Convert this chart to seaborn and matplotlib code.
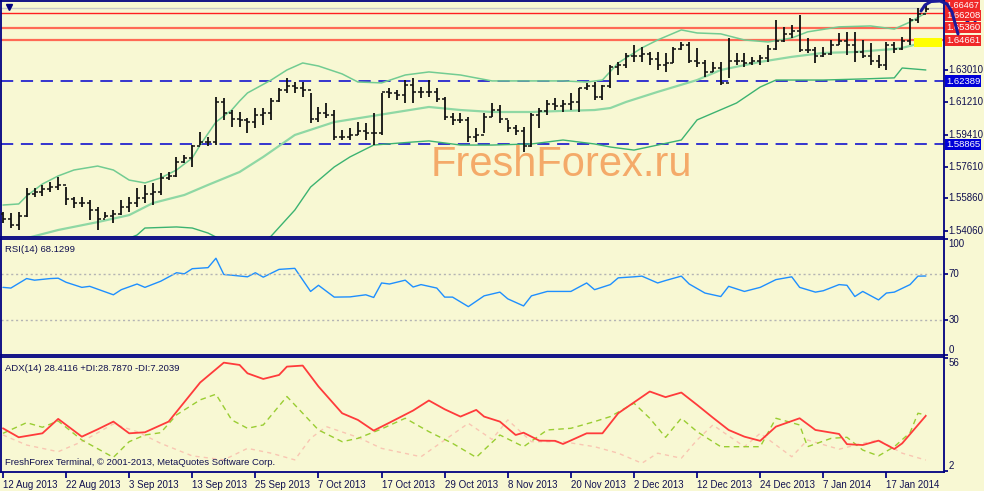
import numpy as np
import pandas as pd
import matplotlib
matplotlib.use("Agg")
import matplotlib.pyplot as plt
import matplotlib.transforms as mtransforms
from matplotlib.lines import Line2D
from matplotlib.patches import Rectangle
import seaborn as sns

BG = "#F8F8D3"
NAVY = "#000080"
TXT = "#101050"

# daily GBP/USD bars, 12 Aug 2013 .. 22 Jan 2014
bar_high = [1.5510, 1.5505, 1.5510, 1.5644, 1.5644, 1.5661, 1.5677, 1.5705, 1.5649, 1.5594,
            1.5594, 1.5577, 1.5538, 1.5510, 1.5521, 1.5577, 1.5594, 1.5644, 1.5661, 1.5672,
            1.5727, 1.5733, 1.5817, 1.5828, 1.5883, 1.5956, 1.5928, 1.6151, 1.6145, 1.6078,
            1.6067, 1.6034, 1.6089, 1.6089, 1.6145, 1.6201, 1.6257, 1.6234, 1.6234, 1.6173,
            1.6095, 1.6117, 1.6078, 1.5967, 1.5978, 1.6011, 1.6006, 1.6062, 1.6173, 1.6201,
            1.6190, 1.6245, 1.6257, 1.6206, 1.6245, 1.6201, 1.6151, 1.6062, 1.6062, 1.6039,
            1.5978, 1.6062, 1.6117, 1.6106, 1.6023, 1.5995, 1.5984, 1.6062, 1.6089, 1.6134,
            1.6145, 1.6134, 1.6173, 1.6201, 1.6229, 1.6234, 1.6218, 1.6329, 1.6346, 1.6396,
            1.6440, 1.6429, 1.6401, 1.6401, 1.6396, 1.6429, 1.6457, 1.6457, 1.6424, 1.6357,
            1.6346, 1.6346, 1.6479, 1.6396, 1.6396, 1.6374, 1.6385, 1.6440, 1.6580, 1.6541,
            1.6552, 1.6607, 1.6479, 1.6429, 1.6429, 1.6468, 1.6507, 1.6513, 1.6513, 1.6468,
            1.6451, 1.6385, 1.6457, 1.6457, 1.6485, 1.6591, 1.6646, 1.6663]
bar_low = [1.5449, 1.5421, 1.5410, 1.5482, 1.5594, 1.5599, 1.5622, 1.5633, 1.5549, 1.5532,
           1.5538, 1.5466, 1.5410, 1.5477, 1.5449, 1.5493, 1.5510, 1.5538, 1.5560, 1.5549,
           1.5605, 1.5688, 1.5705, 1.5783, 1.5761, 1.5883, 1.5878, 1.5883, 1.6023, 1.5984,
           1.5984, 1.5950, 1.5978, 1.5995, 1.6023, 1.6123, 1.6173, 1.6173, 1.6151, 1.6006,
           1.6011, 1.6034, 1.5911, 1.5911, 1.5911, 1.5939, 1.5911, 1.5883, 1.5939, 1.6145,
           1.6134, 1.6117, 1.6117, 1.6145, 1.6151, 1.6123, 1.6023, 1.5995, 1.6006, 1.5900,
           1.5900, 1.5950, 1.6039, 1.6006, 1.5956, 1.5939, 1.5844, 1.5872, 1.5978, 1.6050,
           1.6078, 1.6067, 1.6078, 1.6067, 1.6190, 1.6134, 1.6134, 1.6201, 1.6273, 1.6312,
           1.6346, 1.6346, 1.6329, 1.6301, 1.6290, 1.6340, 1.6412, 1.6340, 1.6318, 1.6262,
           1.6290, 1.6218, 1.6257, 1.6329, 1.6318, 1.6329, 1.6329, 1.6346, 1.6412, 1.6457,
           1.6479, 1.6401, 1.6396, 1.6340, 1.6374, 1.6385, 1.6440, 1.6385, 1.6346, 1.6368,
           1.6329, 1.6312, 1.6301, 1.6396, 1.6412, 1.6440, 1.6563, 1.6624]
bar_close = [1.5470, 1.5440, 1.5490, 1.5610, 1.5620, 1.5640, 1.5650, 1.5660, 1.5580, 1.5560,
             1.5560, 1.5520, 1.5470, 1.5490, 1.5500, 1.5540, 1.5560, 1.5590, 1.5610, 1.5620,
             1.5700, 1.5710, 1.5790, 1.5810, 1.5880, 1.5900, 1.5900, 1.6120, 1.6060, 1.6030,
             1.6020, 1.6010, 1.6050, 1.6060, 1.6130, 1.6190, 1.6210, 1.6200, 1.6190, 1.6030,
             1.6060, 1.6050, 1.5930, 1.5930, 1.5940, 1.5960, 1.5950, 1.5950, 1.6180, 1.6170,
             1.6160, 1.6220, 1.6180, 1.6180, 1.6180, 1.6140, 1.6040, 1.6020, 1.6020, 1.5930,
             1.5940, 1.6040, 1.6080, 1.6030, 1.5980, 1.5960, 1.5880, 1.6050, 1.6070, 1.6110,
             1.6100, 1.6110, 1.6120, 1.6200, 1.6210, 1.6150, 1.6210, 1.6320, 1.6330, 1.6380,
             1.6380, 1.6390, 1.6360, 1.6330, 1.6340, 1.6420, 1.6440, 1.6350, 1.6340, 1.6290,
             1.6310, 1.6230, 1.6350, 1.6350, 1.6340, 1.6350, 1.6370, 1.6420, 1.6460, 1.6500,
             1.6520, 1.6410, 1.6410, 1.6380, 1.6390, 1.6440, 1.6460, 1.6440, 1.6400, 1.6380,
             1.6350, 1.6330, 1.6440, 1.6420, 1.6460, 1.6580, 1.6610, 1.6640]
first_open = 1.5500

# Bollinger bands (20)
bb_upper_idx = [0, 2, 3, 5, 7, 9, 12, 14, 16, 18, 20, 22, 24, 25, 27, 29, 30, 31, 34, 36,
                38, 40, 43, 45, 48, 51, 54, 58, 62, 67, 71, 74, 76, 78, 81, 83, 86, 88, 91, 94,
                97, 100, 102, 106, 110, 113, 115, 117]
bb_upper = [1.5549, 1.5555, 1.5599, 1.5666, 1.5711, 1.5744, 1.5766, 1.5744, 1.5688, 1.5672,
            1.5700, 1.5744, 1.5811, 1.5883, 1.6011, 1.6078, 1.6128, 1.6173, 1.6245, 1.6301,
            1.6340, 1.6323, 1.6279, 1.6234, 1.6229, 1.6273, 1.6290, 1.6273, 1.6240, 1.6240,
            1.6240, 1.6234, 1.6245, 1.6340, 1.6424, 1.6468, 1.6524, 1.6507, 1.6502, 1.6468,
            1.6457, 1.6479, 1.6513, 1.6541, 1.6546, 1.6529, 1.6568, 1.6619]
bb_mid_idx = [0, 4, 7, 12, 16, 19, 23, 26, 30, 33, 37, 42, 46, 50, 54, 58, 62, 67, 71, 75,
              77, 79, 83, 88, 91, 96, 100, 104, 108, 113, 114, 117]
bb_mid = [1.5330, 1.5376, 1.5410, 1.5454, 1.5493, 1.5560, 1.5605, 1.5661, 1.5733, 1.5817,
          1.5939, 1.6011, 1.6039, 1.6067, 1.6095, 1.6078, 1.6067, 1.6067, 1.6073, 1.6078,
          1.6089, 1.6123, 1.6179, 1.6245, 1.6301, 1.6346, 1.6374, 1.6396, 1.6401, 1.6418,
          1.6424, 1.6457]
bb_lower_idx = [0, 8, 14, 17, 18, 22, 24, 26, 27, 30, 34, 37, 39, 42, 44, 47, 52, 54, 58, 62,
                67, 71, 75, 77, 80, 83, 86, 88, 93, 96, 98, 104, 109, 113, 114, 117]
bb_lower = [1.5120, 1.5230, 1.5330, 1.5382, 1.5421, 1.5427, 1.5421, 1.5393, 1.5371, 1.5250,
            1.5376, 1.5521, 1.5649, 1.5761, 1.5817, 1.5883, 1.5900, 1.5906, 1.5883, 1.5883,
            1.5889, 1.5911, 1.5889, 1.5872, 1.5855, 1.5883, 1.5911, 1.6023, 1.6117, 1.6206,
            1.6245, 1.6245, 1.6251, 1.6257, 1.6312, 1.6301]

resist_levels = [1.66208, 1.65360, 1.64661]
support_levels = [1.62389, 1.58865]
bid_price = 1.66467
price_ticks = [1.63010, 1.61210, 1.59410, 1.57610, 1.55860, 1.54060]

rsi_idx = [0, 1, 3, 4, 6, 7, 8, 10, 11, 14, 15, 17, 18, 20, 22, 23, 24, 26, 27, 28,
           29, 31, 32, 33, 35, 37, 39, 40, 42, 44, 46, 47, 48, 49, 51, 52, 53, 55, 56, 57,
           59, 61, 63, 64, 66, 67, 69, 72, 74, 75, 77, 78, 80, 81, 83, 84, 86, 87, 89, 91,
           92, 94, 96, 98, 100, 101, 103, 104, 106, 107, 108, 109, 111, 112, 113, 115, 116, 117]
rsi_val = [58.3, 57.7, 65.9, 64.5, 65.9, 66.2, 62.7, 58.3, 59.2, 51.9, 56.3, 61.2, 58.3, 63.6,
           70.9, 70.0, 74.4, 75.3, 83.4, 69.4, 68.8, 67.4, 70.9, 67.1, 73.8, 74.7, 54.8, 60.1,
           49.9, 50.1, 51.9, 49.6, 62.1, 61.2, 64.5, 58.6, 60.7, 57.7, 49.9, 49.9, 41.7, 51.0,
           54.2, 48.4, 42.3, 51.0, 54.8, 54.8, 62.1, 56.3, 60.7, 66.5, 67.4, 68.0, 62.1, 64.2,
           68.0, 61.2, 53.4, 50.4, 59.2, 54.8, 58.3, 65.0, 67.4, 58.3, 54.2, 55.4, 60.7, 60.1,
           50.4, 54.8, 47.5, 53.4, 54.2, 60.7, 68.0, 68.1]

adx_idx = [0, 2, 5, 7, 10, 12, 14, 16, 18, 21, 25, 28, 30, 31, 33, 35, 36, 38, 40, 43,
           45, 47, 49, 52, 54, 56, 58, 60, 61, 63, 65, 66, 68, 70, 71, 74, 76, 78, 82, 84,
           86, 88, 90, 92, 94, 96, 98, 101, 103, 106, 107, 109, 111, 113, 114, 117]
adx_val = [22.4, 18.1, 20.0, 26.9, 18.4, 21.9, 25.6, 20.0, 20.5, 25.6, 44.3, 53.8, 52.7, 48.7,
           46.0, 47.9, 51.9, 52.4, 42.4, 29.6, 26.4, 21.3, 25.1, 30.9, 35.7, 31.5, 28.0, 31.2,
           28.0, 25.6, 19.2, 20.3, 16.5, 16.4, 14.9, 20.0, 20.0, 29.6, 40.0, 37.3, 39.5, 33.6,
           27.5, 21.6, 18.4, 16.4, 23.2, 27.2, 21.6, 19.7, 14.8, 14.4, 16.5, 12.5, 15.2, 28.4]
pdi_idx = [0, 3, 5, 7, 10, 14, 16, 18, 20, 22, 25, 27, 29, 31, 33, 36, 40, 43, 45, 48,
           51, 54, 57, 60, 63, 66, 69, 72, 75, 77, 80, 82, 84, 86, 88, 91, 93, 96, 98, 101,
           102, 105, 107, 109, 111, 113, 115, 116, 117]
pdi_val = [20.0, 25.1, 22.9, 25.9, 16.8, 8.5, 16.0, 19.2, 20.3, 28.8, 36.0, 38.7, 26.4, 22.4,
           24.0, 37.6, 21.6, 16.0, 17.6, 22.1, 27.2, 20.8, 15.2, 8.5, 19.2, 13.6, 21.6, 22.4,
           25.6, 28.0, 34.4, 27.2, 18.1, 27.2, 20.8, 13.6, 13.6, 13.6, 27.2, 24.0, 13.6, 17.6,
           18.1, 12.0, 9.2, 13.6, 20.3, 29.6, 28.8]
mdi_idx = [0, 3, 7, 10, 14, 17, 20, 24, 28, 31, 34, 37, 39, 41, 45, 48, 53, 56, 59, 62,
           64, 67, 71, 75, 78, 81, 83, 86, 88, 90, 94, 96, 100, 102, 106, 109, 111, 114, 117]
mdi_val = [19.2, 14.4, 11.2, 16.0, 24.5, 20.8, 15.2, 9.2, 7.3, 12.8, 10.5, 7.3, 17.6, 23.2,
           18.1, 12.8, 8.8, 16.8, 24.8, 17.1, 26.4, 16.0, 16.0, 13.6, 10.5, 5.7, 10.5, 8.1,
           16.8, 24.0, 13.6, 20.0, 8.8, 16.8, 12.4, 15.2, 16.8, 10.5, 7.2]

date_idx = [0, 8, 16, 24, 32, 40, 48, 56, 64, 72, 80, 88, 96, 104, 112]
date_labels = ["12 Aug 2013", "22 Aug 2013", "3 Sep 2013", "13 Sep 2013", "25 Sep 2013",
               "7 Oct 2013", "17 Oct 2013", "29 Oct 2013", "8 Nov 2013", "20 Nov 2013",
               "2 Dec 2013", "12 Dec 2013", "24 Dec 2013", "7 Jan 2014", "17 Jan 2014"]

sns.set_theme(style="white")
plt.rcParams["font.family"] = ["Liberation Sans", "DejaVu Sans"]

W, H = 984, 491
fig = plt.figure(figsize=(W / 100, H / 100), dpi=100, facecolor=BG)
pw = 943 / W
ax = fig.add_axes([0.001, 1 - 237 / H, pw, 236 / H])
ax_rsi = fig.add_axes([0.001, 1 - 355 / H, pw, 116 / H])
ax_adx = fig.add_axes([0.001, 1 - 472 / H, pw, 115 / H])

XL = (-0.25, 119.3)
for a in (ax, ax_rsi, ax_adx):
    a.set_facecolor(BG)
    a.set_xlim(*XL)
    for s in a.spines.values():
        s.set_color(NAVY)
        s.set_linewidth(1.3)
    a.tick_params(axis="y", which="both", left=False, right=True, length=3,
                  color=NAVY, labelleft=False, labelright=False)
    a.tick_params(axis="x", bottom=False, labelbottom=False)

# ---- price panel
ax.set_ylim(1.5371, 1.6685)
band_style = dict(estimator=None, sort=False, legend=False, ax=ax)
sns.lineplot(x=bb_upper_idx, y=bb_upper, color="#72CC92", lw=1.1, **band_style)
sns.lineplot(x=bb_mid_idx, y=bb_mid, color="#8FD8A4", lw=1.6, **band_style)
sns.lineplot(x=bb_lower_idx, y=bb_lower, color="#3CB371", lw=1.0, **band_style)

ax.axhline(bid_price, color="#C8C8C8", lw=1, zorder=1)
ax.axhline(resist_levels[0], color="#FF2020", lw=1, zorder=1)
for lv in resist_levels[1:]:
    ax.axhline(lv, color="#FF6A55", lw=1.6, zorder=1)
for lv in support_levels:
    ax.axhline(lv, color="#0000CD", lw=1.1, dashes=(8, 5), zorder=1)

ax.add_patch(Rectangle((115.5, 1.6429), 3.6, 0.0050, facecolor="#FFFF00",
                       edgecolor="none", zorder=2))

idx = np.arange(len(bar_close))
bar_open = [first_open] + bar_close[:-1]
ax.vlines(idx, bar_low, bar_high, color="#111111", lw=1.3, zorder=4)
ax.hlines(bar_open, idx - 0.38, idx, color="#111111", lw=1.1, zorder=4)
ax.hlines(bar_close, idx, idx + 0.38, color="#111111", lw=1.1, zorder=4)

ax.text(0.594, 0.305, "FreshForex.ru", transform=ax.transAxes, ha="center", va="center",
        fontsize=30, color="#F4A25E", alpha=0.9, zorder=3)
ax.plot([0.008], [0.975], marker="v", ms=4, color=NAVY, transform=ax.transAxes)

ax.set_yticks(price_ticks)
ytr = ax.get_yaxis_transform()
for p in price_ticks:
    ax.text(1.005, p, f"{p:.5f}", transform=ytr, va="center", ha="left",
            fontsize=7, color=TXT, clip_on=False)
box = dict(boxstyle="square,pad=0.12", edgecolor="none")
# current bid label pinned to the top edge; the nearest level label is nudged below it
ax.text(1.002, 0.998, f"{bid_price:.5f}", transform=ax.transAxes, va="top", ha="left",
        fontsize=6.5, color="white", bbox=dict(box, facecolor="#F02828"), clip_on=False,
        zorder=5)
label_tr = [mtransforms.offset_copy(ytr, fig=fig, y=-3, units="dots"), ytr, ytr]
for lv, tr in zip(resist_levels, label_tr):
    ax.text(1.002, lv, f"{lv:.5f}", transform=tr, va="center", ha="left", fontsize=6.8,
            color="white", bbox=dict(box, facecolor="#F02828"), clip_on=False, zorder=6)
for lv in support_levels:
    ax.text(1.002, lv, f"{lv:.5f}", transform=ytr, va="center", ha="left", fontsize=6.8,
            color="white", bbox=dict(box, facecolor="#0000D8"), clip_on=False, zorder=6)

# hand-drawn arrow in the corner
px = lambda x, y: (x / W, 1 - y / H)
curve = [px(921, 11), px(925, 5), px(931, 1.5), px(940, 1), px(947, 4), px(952, 12), px(958, 34)]
fig.add_artist(Line2D([c[0] for c in curve], [c[1] for c in curve], color="#1A1A9A", lw=2.2))
ax.annotate("", xy=px(980, 5), xycoords="figure fraction", xytext=px(958, 34),
            textcoords="figure fraction",
            arrowprops=dict(arrowstyle="->,head_length=0.6,head_width=0.35",
                            color="#1A1A9A", lw=2.2))

# ---- RSI panel
ax_rsi.set_ylim(0, 100)
sns.lineplot(x=rsi_idx, y=rsi_val, color="#1E8FFF", lw=1.0, estimator=None, sort=False,
             legend=False, ax=ax_rsi)
for lv in (70, 30):
    ax_rsi.axhline(lv, color="#B4B4B4", lw=1, ls=(0, (1.5, 2)))
ax_rsi.set_yticks([0, 30, 70, 100])
rtr = ax_rsi.get_yaxis_transform()
for v, va in ((100, "top"), (70, "center"), (30, "center"), (0, "bottom")):
    ax_rsi.text(1.005, v, str(v), transform=rtr, va=va, ha="left", fontsize=7, color=TXT,
                clip_on=False)
ax_rsi.text(0.004, 0.95, "RSI(14) 68.1299", transform=ax_rsi.transAxes, va="top",
            fontsize=6.8, color=TXT)

# ---- ADX panel
ax_adx.set_ylim(1.5, 56.5)
sns.lineplot(x=mdi_idx, y=mdi_val, color="#F9C6B2", lw=1.0, estimator=None,
             sort=False, legend=False, ax=ax_adx).lines[-1].set_dashes((3, 3))
sns.lineplot(x=pdi_idx, y=pdi_val, color="#9ACD32", lw=1.0, estimator=None, sort=False,
             legend=False, ax=ax_adx).lines[-1].set_dashes((4, 3))
sns.lineplot(x=adx_idx, y=adx_val, color="#FF3B3B", lw=1.3, estimator=None, sort=False,
             legend=False, ax=ax_adx)
ax_adx.set_yticks([2, 56])
atr = ax_adx.get_yaxis_transform()
ax_adx.text(1.005, 56, "56", transform=atr, va="top", ha="left", fontsize=7, color=TXT,
            clip_on=False)
ax_adx.text(1.005, 2, "2", transform=atr, va="bottom", ha="left", fontsize=7, color=TXT,
            clip_on=False)
ax_adx.text(0.004, 0.94, "ADX(14) 28.4116 +DI:28.7870 -DI:7.2039", transform=ax_adx.transAxes,
            va="top", fontsize=6.8, color=TXT)
ax_adx.text(0.004, 0.04, "FreshForex Terminal, \u00a9 2001-2013, MetaQuotes Software Corp.",
            transform=ax_adx.transAxes, va="bottom", fontsize=6.8, color=TXT)

ax_adx.set_xticks(date_idx)
ax_adx.set_xticklabels(date_labels)
ax_adx.tick_params(axis="x", bottom=True, labelbottom=True, direction="out", length=4,
                   color=NAVY, labelsize=7, labelcolor=TXT, pad=2)
for t in ax_adx.get_xticklabels():
    t.set_ha("left")

for a in (ax, ax_rsi, ax_adx):
    a.set_xlabel("")
    a.set_ylabel("")

fig.savefig("out.png", dpi=100, facecolor=BG)
